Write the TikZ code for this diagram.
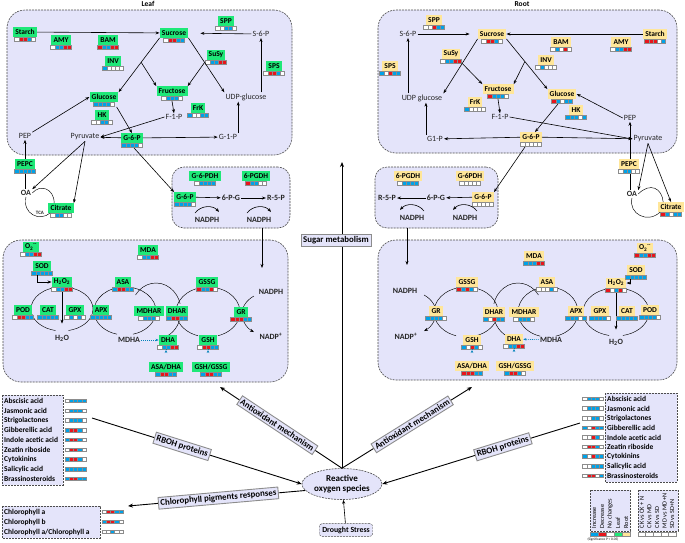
\documentclass[tikz,border=0pt]{standalone}
\usepackage{fontspec}
\setmainfont{Carlito}
\usetikzlibrary{arrows.meta,calc,shapes.geometric}
\pgfdeclarelayer{back}
\pgfdeclarelayer{lines}
\pgfsetlayers{back,lines,main}
\definecolor{panelfill} {RGB}{228,228,250}
\definecolor{leafgreen} {RGB}{30,232,120}
\definecolor{rootyellow}{RGB}{255,230,153}
\definecolor{barb}{RGB}{0,162,232}
\definecolor{barr}{RGB}{232,20,28}
\definecolor{barw}{RGB}{255,255,255}
\definecolor{barg}{RGB}{30,232,120}
\definecolor{bary}{RGB}{255,230,153}
\tikzset{
  panel/.style   ={draw=black!70, dash pattern=on 2pt off 1pt, fill=panelfill,
                   rounded corners=18pt, line width=0.6pt, inner sep=0pt},
  leafbox/.style ={fill=leafgreen, font=\bfseries, inner xsep=2.2pt, inner ysep=1.2pt,
                   minimum height=9.5pt},
  rootbox/.style ={fill=rootyellow, font=\bfseries, inner xsep=2.2pt, inner ysep=1.2pt,
                   minimum height=9.5pt},
  met/.style     ={inner sep=1pt, text=black!85, font=\fontsize{8}{9}\selectfont},
  bmet/.style    ={met, font=\fontsize{8}{9}\selectfont\bfseries},
  arr/.style     ={-{Stealth[length=4pt,width=3pt]}, line width=0.6pt},
  bigarr/.style  ={-{Stealth[length=5pt,width=4pt]}, line width=0.9pt},
  cyc/.style     ={line width=0.45pt},
  dotarr/.style  ={-{Stealth[length=3pt,width=2.5pt]}, dash pattern=on 1pt off 1pt,
                   draw=barb!80!black, line width=0.6pt},
  tagbox/.style  ={draw=black!45, fill=panelfill, font=\fontsize{8.8}{10}\selectfont\bfseries,
                   inner sep=2pt},
  listbox/.style ={draw=black!70, dash pattern=on 2pt off 1pt, fill=panelfill, line width=0.6pt},
  listrow/.style ={anchor=west, inner sep=1pt, font=\bfseries},
  cell/.style    ={draw=black!45, line width=0.3pt},
  lgtext/.style  ={rotate=90, anchor=west, inner sep=0.5pt, font=\fontsize{6.3}{7}\selectfont},
}
% five-cell result bar under a node: #1 anchor, #2 colour letters
\newcommand{\cellbar}[2]{\edef\cbl{#2}\expandafter\cellbarA\cbl\relax{#1}}
\def\cellbarA#1#2#3#4#5\relax#6{%
  \foreach \col [count=\i] in {#1,#2,#3,#4,#5}
    \path[cell, fill=bar\col] ($(#6)+({4.2*\i-14.7},0.6)$) rectangle ++(4.2,3.6);}

\begin{document}
\fontsize{7.5}{9}\selectfont
\begin{tikzpicture}[x=1pt, y=-1pt]
\useasboundingbox (0,0) rectangle (685,542);

% ---------- panels ----------
\begin{pgfonlayer}{back}
\node[panel, minimum width=285, minimum height=145] (sugL) at (149.5,82.5) {};
\node[panel, minimum width=299, minimum height=143] (sugR) at (527.5,81.5) {};
\node[panel, rounded corners=12pt, minimum width=118, minimum height=61] (pppL) at (231,197.5) {};
\node[panel, rounded corners=12pt, minimum width=123, minimum height=61] (pppR) at (436.5,197.5) {};
\node[panel, minimum width=285, minimum height=142] (aoxL) at (145.5,311) {};
\node[panel, minimum width=299, minimum height=140] (aoxR) at (527.5,310) {};
\path[listbox] (2,395) rectangle (63,485);
\path[listbox] (605,393) rectangle (677,482);
\path[listbox] (2,506) rectangle (100,538);
\path[listbox] (590,490) rectangle (630,531);
\path[listbox] (638,490) rectangle (678,531);
\end{pgfonlayer}

\node[font=\bfseries] (leaftitle) at (148,4) {Leaf};
\node[font=\bfseries] (roottitle) at (522,4) {Root};

% ---------- leaf: sugar metabolism ----------
\node[leafbox] (starchL) at (25,32)  {Starch};
\node[leafbox] (amyL)    at (61,40)  {AMY};
\node[leafbox] (bamL)    at (108,40) {BAM};
\node[leafbox] (invL)    at (113,61) {INV};
\node[leafbox] (sucL)    at (174,33) {Sucrose};
\node[leafbox] (gluL)    at (104,97) {Glucose};
\node[leafbox] (fruL)    at (172,91) {Fructose};
\node[leafbox] (hkL)     at (102,115) {HK};
\node[leafbox] (sppL)    at (226,21) {SPP};
\node[met]     (s6pL)    at (261,34) {S-6-P};
\node[leafbox] (susyL)   at (216,55) {SuSy};
\node[leafbox] (spsL)    at (274,66) {SPS};
\node[met]     (udpL)    at (246,97) {UDP-glucose};
\node[leafbox] (frkL)    at (198,108) {FrK};
\node[met]     (f1pL)    at (174,117) {F-1-P};
\node[met]     (g1pL)    at (228,137) {G-1-P};
\node[met]     (pyrL)    at (85,137) {Pyruvate};
\node[met]     (pepL)    at (25,136) {PEP};
\node[leafbox] (g6pL)    at (132,138) {G-6-P};
\node[leafbox] (pepcL)   at (25,164) {PEPC};
\node[bmet]    (oaL)     at (26,193) {OA};
\node[bmet, font=\fontsize{5}{6}\selectfont\bfseries] (tcaL) at (40,213) {TCA};
\node[leafbox] (citL)    at (61,208) {Citrate};

\cellbar{starchL.south}{wrrbw} \cellbar{amyL.south}{wbbrr} \cellbar{bamL.south}{rbbrr}
\cellbar{invL.south}{bwwww}    \cellbar{sucL.south}{wrrbb} \cellbar{gluL.south}{bbbbw}
\cellbar{fruL.south}{wbbbw}    \cellbar{hkL.south}{wwbbw}  \cellbar{sppL.south}{wwbbw}
\cellbar{susyL.south}{wbbrr}   \cellbar{spsL.south}{wrrbw} \cellbar{frkL.south}{bwwbb}
\cellbar{g6pL.south}{bbbbw}    \cellbar{pepcL.south}{bbbbb} \cellbar{citL.south}{wbbww}

\coordinate (invbrL)  at ($(sucL.south west)!0.45!(gluL.north east)$);
\coordinate (susybrL) at ($(sucL.south east)!0.45!(udpL.north west)$);
\draw[arr] (starchL) -- (sucL);
\draw[arr, shorten >=12pt] (s6pL) -- (sucL);
\draw[arr] (s6pL |- udpL.north) -- (s6pL.south);
\draw[arr] (sucL.south west) -- (gluL.north east);
\draw[arr] (invbrL) -- (fruL.north west);
\draw[arr] (sucL.south east) -- (udpL.north west);
\draw[arr] (susybrL) -- (fruL.north east);
\draw[arr] ($(fruL.south)+(0,5)$) -- (f1pL.north);
\draw[arr] (f1pL.west) -- (pyrL.east);
\draw[arr] (g6pL) -- (pyrL);
\draw[arr] (g6pL) -- (g1pL);
\draw[arr] (g1pL.north east) -- (g1pL.north east |- udpL.south);
\draw[arr] ($(gluL.south east)+(-2,5)$) -- (g6pL.north);
\draw[arr] (pepL.north east) -- (gluL.west);
\draw[arr] (pyrL.south) -- (oaL.north east);
\draw[arr] (pyrL.south) -- (citL.north east);
\begin{pgfonlayer}{lines}
\draw[arr] (oaL.north -| pepL) -- (pepL.south);
\end{pgfonlayer}
\draw[cyc] (oaL.east) .. controls (40,184) and (54,188) .. ($(citL.north west)+(6,0)$);
\draw[cyc] (oaL.south) .. controls (22,214) and (40,222) .. ($(citL.south west)+(2,0)$);

% ---------- leaf: pentose phosphate ----------
\node[leafbox] (g6pdhL) at (205,176) {G-6-PDH};
\node[leafbox] (pgdhL)  at (256,176) {6-PGDH};
\node[leafbox] (g6pP)   at (185,197) {G-6-P};
\node[bmet]    (p6gL)   at (231,198) {6-P-G};
\node[bmet]    (r5pL)   at (276,198) {R-5-P};
\node[bmet]    (nadphLa) at (207,220) {NADPH};
\node[bmet]    (nadphLb) at (259,220) {NADPH};
\cellbar{g6pdhL.south}{wbbbb} \cellbar{pgdhL.south}{rbbww} \cellbar{g6pP.south}{bbbbw}
\draw[arr] (g6pP) -- (p6gL);
\draw[arr] (p6gL) -- (r5pL);
\draw[arr] ($(g6pL.south)+(2,5)$) -- (g6pP.north west);
\foreach \n in {nadphLa,nadphLb}
  \draw[arr] ($(\n)+(-12,-7)$) .. controls ($(\n)+(-6,-15)$) and ($(\n)+(6,-15)$) .. ($(\n)+(12,-8)$);

% ---------- root: sugar metabolism ----------
\node[rootbox] (sppR)    at (434,20) {SPP};
\node[met]     (s6pR)    at (408,34) {S-6-P};
\node[rootbox] (sucR)    at (492,34) {Sucrose};
\node[rootbox] (susyR)   at (451,54) {SuSy};
\node[rootbox] (spsR)    at (390,66) {SPS};
\node[met]     (udpR)    at (422,98) {UDP glucose};
\node[rootbox] (fruR)    at (498,89) {Fructose};
\node[rootbox] (frkR)    at (475,102) {FrK};
\node[met]     (f1pR)    at (500,117) {F-1-P};
\node[met]     (g1pR)    at (435,139) {G1-P};
\node[rootbox] (bamR)    at (561,42) {BAM};
\node[rootbox] (amyR)    at (621,42) {AMY};
\node[rootbox] (starchR) at (655,34) {Starch};
\node[rootbox] (invR)    at (546,60) {INV};
\node[rootbox] (gluR)    at (562,94) {Glucose};
\node[rootbox] (hkR)     at (576,110) {HK};
\node[met]     (pepR)    at (630,118) {PEP};
\node[met]     (pyrR)    at (648,139) {Pyruvate};
\node[rootbox] (g6pR)    at (531,137) {G-6-P};
\node[rootbox] (pepcR)   at (629,164) {PEPC};
\node[bmet]    (oaR)     at (632,194) {OA};
\node[rootbox] (citR)    at (671,207) {Citrate};

\cellbar{sppR.south}{wwrbb}  \cellbar{sucR.south}{wrrbw}  \cellbar{susyR.south}{wbbrr}
\cellbar{spsR.south}{bwrbb}  \cellbar{fruR.south}{rbbbw}  \cellbar{frkR.south}{bwwww}
\cellbar{bamR.south}{wbwrw}  \cellbar{amyR.south}{wbbrr}  \cellbar{starchR.south}{rrrwb}
\cellbar{invR.south}{wbwww}  \cellbar{gluR.south}{rbwbb}  \cellbar{hkR.south}{bbbwb}
\cellbar{g6pR.south}{wwwww}  \cellbar{pepcR.south}{wbbww} \cellbar{citR.south}{rbwbb}

\coordinate (susybrR) at ($(sucR.south west)!0.45!(udpR.north east)$);
\coordinate (invbrR)  at ($(sucR.south east)!0.45!(gluR.north west)$);
\draw[arr] (starchR) -- (sucR);
\draw[arr, shorten >=8pt] (s6pR) -- (sucR);
\draw[arr] (s6pR |- udpR.north) -- (s6pR.south);
\draw[arr] (sucR.south west) -- (udpR.north east);
\draw[arr] (susybrR) -- (fruR.north west);
\draw[arr] (sucR.south east) -- (gluR.north west);
\draw[arr] (invbrR) -- (fruR.north east);
\draw[arr] ($(fruR.south)+(0,5)$) -- (f1pR.north);
\draw[arr] (f1pR.east) -- (pyrR.west);
\draw[arr] (g6pR) -- (pyrR);
\draw[arr] (g6pR) -- (g1pR);
\draw[arr] (g1pR.north west) -- (g1pR.north west |- udpR.south);
\draw[arr] ($(gluR.south)+(-4,5)$) -- ($(g6pR.north)+(4,0)$);
\draw[arr] (pepR.west) -- (gluR.east);
\draw[arr] (pyrR.south) -- (oaR.north east);
\draw[arr] (pyrR.south) -- (citR.north);
\begin{pgfonlayer}{lines}
\draw[arr] (oaR.north -| pepR) -- (pepR.south);
\end{pgfonlayer}
\draw[cyc] (oaR.east) .. controls (650,182) and (662,188) .. ($(citR.north west)+(5,0)$);
\draw[cyc] (oaR.south) .. controls (628,214) and (648,224) .. ($(citR.south west)+(2,0)$);

% ---------- root: pentose phosphate ----------
\node[rootbox] (pgdhR)  at (408,176) {6-PGDH};
\node[rootbox] (g6pdhR) at (470,176) {G-6PDH};
\node[rootbox] (g6pRP)  at (483,197) {G-6-P};
\node[bmet]    (p6gR)   at (436,198) {6-P-G};
\node[bmet]    (r5pR)   at (387,198) {R-5-P};
\node[bmet]    (nadphRa) at (412,218) {NADPH};
\node[bmet]    (nadphRb) at (465,218) {NADPH};
\cellbar{pgdhR.south}{wbbbb} \cellbar{g6pdhR.south}{wwwww} \cellbar{g6pRP.south}{wwwww}
\draw[arr] (g6pRP) -- (p6gR);
\draw[arr] (p6gR) -- (r5pR);
\draw[arr] ($(g6pR.south)+(-6,5)$) -- (g6pRP.north east);
\foreach \n in {nadphRa,nadphRb}
  \draw[arr] ($(\n)+(12,-7)$) .. controls ($(\n)+(6,-15)$) and ($(\n)+(-6,-15)$) .. ($(\n)+(-12,-8)$);

% ---------- leaf: antioxidant system ----------
\node[leafbox] (o2L)    at (31,247) {O\textsubscript{2}\textsuperscript{·-}};
\node[leafbox] (sodL)   at (42,266) {SOD};
\node[leafbox] (h2o2L)  at (62,282) {H\textsubscript{2}O\textsubscript{2}};
\node[leafbox] (mdaL)   at (148,250) {MDA};
\node[leafbox] (asaL)   at (123,282) {ASA};
\node[leafbox] (gssgL)  at (207,282) {GSSG};
\node[bmet]    (nadphL) at (271,292) {NADPH};
\node[leafbox] (podL)   at (23,310) {POD};
\node[leafbox] (catL)   at (48,310) {CAT};
\node[leafbox] (gpxL)   at (75,310) {GPX};
\node[leafbox] (apxL)   at (101,310) {APX};
\node[leafbox] (mdharL) at (149,311) {MDHAR};
\node[leafbox] (dharL)  at (177,311) {DHAR};
\node[leafbox] (grL)    at (241,312) {GR};
\node[bmet]    (h2oL)   at (62,338) {H\textsubscript{2}O};
\node[bmet]    (mdhaL)  at (129,340) {MDHA};
\node[leafbox] (dhaL)   at (168,340) {DHA};
\node[leafbox] (gshL)   at (208,340) {GSH};
\node[bmet]    (nadpL)  at (271,336) {NADP\textsuperscript{+}};
\node[leafbox] (asadhaL)  at (166,367) {ASA/DHA};
\node[leafbox] (gshgssgL) at (211,367) {GSH/GSSG};

\cellbar{o2L.south}{wbbrr}   \cellbar{sodL.south}{bbbbb}  \cellbar{h2o2L.south}{wbbrr}
\cellbar{mdaL.south}{wbbrr}  \cellbar{asaL.south}{brrbb}  \cellbar{gssgL.south}{rbbrw}
\cellbar{podL.south}{wrrbb}  \cellbar{catL.south}{bbbbb}  \cellbar{gpxL.south}{wbwbw}
\cellbar{apxL.south}{bbbbb}  \cellbar{mdharL.south}{wbbbw} \cellbar{dharL.south}{brrbb}
\cellbar{grL.south}{rrrbb}   \cellbar{dhaL.south}{wbbrr}  \cellbar{gshL.south}{wrrbb}
\cellbar{asadhaL.south}{brrbb} \cellbar{gshgssgL.south}{brrbb}

\begin{pgfonlayer}{lines}
\draw[cyc] (62,309) ++(258:31 and 22) arc[start angle=258, end angle=102, x radius=31, y radius=22];
\draw[cyc] (62,309) ++(-78:31 and 22) arc[start angle=-78, end angle=78, x radius=31, y radius=22];
\draw[cyc] (125,311) ++(258:31 and 24) arc[start angle=258, end angle=105, x radius=31, y radius=24];
\draw[cyc] (125,311) ++(-78:31 and 24) arc[start angle=-78, end angle=75, x radius=31, y radius=24];
\draw[cyc] (156,311) ++(215:25 and 28) arc[start angle=215, end angle=345, x radius=25, y radius=28];
\draw[cyc] (156,311) ++(15:25 and 28) arc[start angle=15, end angle=80, x radius=25, y radius=28];
\draw[cyc] (208,312) ++(252:32 and 25) arc[start angle=252, end angle=108, x radius=32, y radius=25];
\draw[cyc] (208,312) ++(-72:32 and 25) arc[start angle=-72, end angle=72, x radius=32, y radius=25];
\draw[cyc, arr, line width=0.45pt] (270,314) ++(235:28 and 22) arc[start angle=235, end angle=125, x radius=28, y radius=22];
\draw[arr, shorten >=10pt] (h2o2L.south) -- (h2oL.north);
\end{pgfonlayer}
\draw[cyc] ($(o2L.south)+(4,4.5)$) -- ($(o2L.south)+(4,4.5)$ |- sodL.north);
\draw[arr] ($(sodL.south)+(-5,4.5)$) |- (h2o2L.west);
\draw[dotarr] (mdhaL) -- (dhaL);
\draw[dotarr] ($(dhaL.south)+(-2,5)$) -- ($(dhaL.south)+(-2,5)$ |- asadhaL.north);
\draw[dotarr] ($(gshL.south)+(0,5)$) -- ($(gshL.south)+(0,5)$ |- gshgssgL.north);

% ---------- root: antioxidant system ----------
\node[rootbox] (mdaR)   at (534,256) {MDA};
\node[rootbox] (o2R)    at (645,248) {O\textsubscript{2}\textsuperscript{·-}};
\node[rootbox] (sodR)   at (636,270) {SOD};
\node[rootbox] (h2o2R)  at (616,283) {H\textsubscript{2}O\textsubscript{2}};
\node[rootbox] (asaR)   at (547,282) {ASA};
\node[rootbox] (gssgR)  at (467,282) {GSSG};
\node[bmet]    (nadphR) at (405,291) {NADPH};
\node[rootbox] (grR)    at (436,311) {GR};
\node[rootbox] (dharR)  at (494,312) {DHAR};
\node[rootbox] (mdharR) at (524,312) {MDHAR};
\node[rootbox] (apxR)   at (576,311) {APX};
\node[rootbox] (gpxR)   at (600,311) {GPX};
\node[rootbox] (catR)   at (627,311) {CAT};
\node[rootbox] (podR)   at (650,310) {POD};
\node[bmet]    (nadpR)  at (406,336) {NADP\textsuperscript{+}};
\node[rootbox] (gshR)   at (472,340) {GSH};
\node[rootbox] (dhaR)   at (514,339) {DHA};
\node[bmet]    (mdhaR)  at (551,340) {MDHA};
\node[bmet]    (h2oR)   at (616,342) {H\textsubscript{2}O};
\node[rootbox] (asadhaR)  at (472,366) {ASA/DHA};
\node[rootbox] (gshgssgR) at (515,366) {GSH/GSSG};

\cellbar{mdaR.south}{bbbrr}  \cellbar{o2R.south}{rbbrr}   \cellbar{sodR.south}{bbbbb}
\cellbar{h2o2R.south}{rwbrw} \cellbar{asaR.south}{wwwbw}  \cellbar{gssgR.south}{rbrbw}
\cellbar{grR.south}{bbbbw}   \cellbar{dharR.south}{bwrbb} \cellbar{mdharR.south}{wbbbw}
\cellbar{apxR.south}{bbbwb}  \cellbar{gpxR.south}{bbbbw}  \cellbar{catR.south}{bbbbb}
\cellbar{podR.south}{bbbbw}  \cellbar{gshR.south}{bwrbw}  \cellbar{dhaR.south}{wbbrr}
\cellbar{asadhaR.south}{rrrbb} \cellbar{gshgssgR.south}{brrbw}

\begin{pgfonlayer}{lines}
\draw[cyc] (616,312) ++(258:33 and 24) arc[start angle=258, end angle=102, x radius=33, y radius=24];
\draw[cyc] (616,312) ++(-78:33 and 24) arc[start angle=-78, end angle=78, x radius=33, y radius=24];
\draw[cyc] (548,312) ++(258:30 and 25) arc[start angle=258, end angle=105, x radius=30, y radius=25];
\draw[cyc] (548,312) ++(-78:30 and 25) arc[start angle=-78, end angle=75, x radius=30, y radius=25];
\draw[cyc] (518,311) ++(325:25 and 28) arc[start angle=325, end angle=195, x radius=25, y radius=28];
\draw[cyc] (518,311) ++(165:25 and 28) arc[start angle=165, end angle=100, x radius=25, y radius=28];
\draw[cyc] (466,312) ++(252:32 and 25) arc[start angle=252, end angle=108, x radius=32, y radius=25];
\draw[cyc] (466,312) ++(-72:32 and 25) arc[start angle=-72, end angle=72, x radius=32, y radius=25];
\draw[cyc, arr, line width=0.45pt] (408,313) ++(-55:28 and 22) arc[start angle=-55, end angle=55, x radius=28, y radius=22];
\draw[arr, shorten >=8pt] (h2o2R.south) -- (h2oR.north);
\end{pgfonlayer}
\draw[cyc] ($(o2R.south)+(-3,4.5)$) -- ($(o2R.south)+(-3,4.5)$ |- sodR.north);
\draw[arr] ($(sodR.south)+(-6,4.5)$) |- (h2o2R.east);
\draw[dotarr] (mdhaR) -- (dhaR);
\draw[dotarr] ($(gshR.south)+(0,5)$) -- ($(gshR.south)+(0,5)$ |- asadhaR.north);
\draw[dotarr] ($(dhaR.south)+(0,5)$) -- ($(dhaR.south)+(0,5)$ |- gshgssgR.north);

% ---------- links between panels ----------
\coordinate (ppLin) at (262,268);
\coordinate (ppRin) at (407,265);
\draw[arr] (pppL.south -| ppLin) -- (ppLin);
\draw[arr] (pppR.south -| ppRin) -- (ppRin);

% ---------- reactive oxygen species ----------
\node[ellipse, draw=black!70, dash pattern=on 2pt off 1pt, fill=panelfill, line width=0.6pt,
      minimum width=80, minimum height=31, inner sep=0pt, align=center,
      font=\fontsize{9}{10.5}\selectfont\bfseries]
  (ros) at (342,484) {Reactive\\oxygen species};
\node[tagbox, draw=black!70, dash pattern=on 2pt off 1pt, rounded corners=3pt, inner sep=3pt,
      font=\fontsize{7.8}{9}\selectfont\bfseries]
  (drought) at (346,530) {Drought Stress};
\draw[arr] (drought) -- (ros);

\coordinate (sugtop)  at (342,162);
\coordinate (aoxLend) at (220,387);
\coordinate (aoxRend) at (472,387);
\coordinate (rbohL)   at (92,418);
\coordinate (rbohR)   at (580,423);
\coordinate (chlend)  at (128,506);
\begin{pgfonlayer}{lines}
\draw[bigarr] (ros.north) -- (sugtop);
\end{pgfonlayer}
\node[tagbox] (sugtag) at (336,240) {Sugar metabolism};
\draw[bigarr] (ros.north) -- (aoxLend) node[pos=0.53, sloped, tagbox] (aoxLtag) {Antioxidant mechanism};
\draw[bigarr] (ros.north) -- (aoxRend) node[pos=0.54, sloped, tagbox] (aoxRtag) {Antioxidant mechanism};
\draw[bigarr] (rbohL) -- (ros.west) node[pos=0.43, sloped, tagbox] (rbohLtag) {RBOH proteins};
\draw[bigarr] (rbohR) -- (ros.east) node[pos=0.39, sloped, tagbox] (rbohRtag) {RBOH proteins};
\draw[bigarr] (ros.190) -- (chlend) node[pos=0.49, sloped, tagbox] (chltag) {Chlorophyll pigments responses};

% ---------- hormones and pigments ----------
\foreach \h/\cl [count=\k] in {Abscisic acid/wbbbb, Jasmonic acid/wbbbw, Strigolactones/wbbbw,
    Gibberellic acid/brrbw, Indole acetic acid/brrbw, Zeatin riboside/wrrbw,
    Cytokinins/brrbw, Salicylic acid/bbbbb, Brassinosteroids/brrbb} {
  \node[listrow] (hL\k) at (3,{401+9.75*(\k-1)}) {\h};
  \coordinate (hLb\k) at (75.5,{398.4+9.75*(\k-1)});
  \cellbar{hLb\k}{\cl}
}
\foreach \h/\cl [count=\k] in {Abscisic acid/wbbbw, Jasmonic acid/wbbbw, Strigolactones/wwbbw,
    Gibberellic acid/bwrbb, Indole acetic acid/wwrbw, Zeatin riboside/wrrbw,
    Cytokinins/bwrbb, Salicylic acid/wwbbb, Brassinosteroids/wrrwb} {
  \node[listrow] (hR\k) at (606,{399+9.6*(\k-1)}) {\h};
  \coordinate (hRb\k) at (593,{396.4+9.6*(\k-1)});
  \cellbar{hRb\k}{\cl}
}
\node[listrow] (chla)  at (3,512) {Chlorophyll a};
\node[listrow] (chlb)  at (3,522) {Chlorophyll b};
\node[listrow] (chlab) at (3,532) {Chlorophyll a/Chlorophyll a};
\coordinate (chlab1) at (112.5,509.4);
\coordinate (chlab2) at (112.5,519.4);
\coordinate (chlab3) at (112.5,529.4);
\cellbar{chlab1}{wrrbb} \cellbar{chlab2}{brrbw} \cellbar{chlab3}{wwbww}

% ---------- legend ----------
\foreach \t [count=\i] in {Increase, Decrease, No changes, Leaf, Root}
  \node[lgtext] (lga\i) at ({586+8*\i},529) {\t};
\foreach \col [count=\i] in {barb,barr,barw,barg,bary}
  \path[cell, fill=\col] ({582+8*\i},532) rectangle ++(8,4);
\node[font=\fontsize{3.5}{4}\selectfont, inner sep=0pt] (signif) at (603,539.5) {(Significance P < 0.05)};
\foreach \t [count=\i] in {CK vs CK + N, CK vs MD, CK vs SD, MD vs MD +N, SD vs SD+N}
  \node[lgtext] (lgb\i) at ({634.2+7.6*\i},529) {\t};
\foreach \i in {1,...,5}
  \path[cell, fill=white] ({630.4+7.6*\i},532) rectangle ++(7.6,4);

\end{tikzpicture}
\end{document}
